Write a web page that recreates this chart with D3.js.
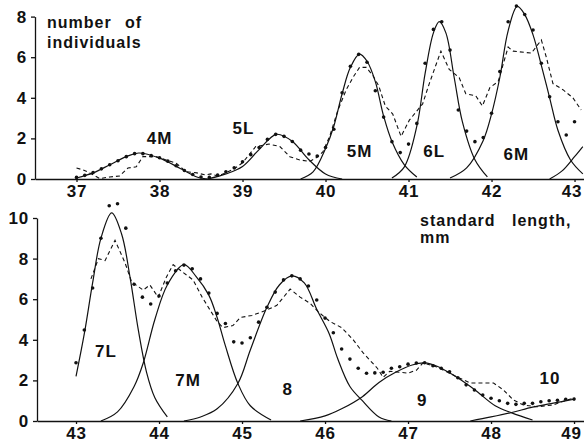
<!DOCTYPE html>
<html lang="en">
<head>
<meta charset="UTF-8">
<title>Length frequency, cohorts</title>
<style>
  body { margin: 0; background: #fff; }
  svg text { font-family: "Liberation Sans", Arial, sans-serif; font-weight: bold; fill: #111; }
  .axis .tick line, .axis .domain { stroke: #111; stroke-width: 1.3px; }
  .axis text { font-size: 17px; letter-spacing: 0.8px; }
  .fit { fill: none; stroke: #111; stroke-width: 1.2px; }
  .obs { fill: none; stroke: #111; stroke-width: 1.1px; stroke-dasharray: 4,3; }
  .pt { fill: #111; }
  .lab { font-size: 17px; letter-spacing: 1px; }
  .title { font-size: 16px; letter-spacing: 1px; }
</style>
</head>
<body>
<svg id="chart" width="584" height="444"></svg>
<script src="https://d3js.org/d3.v7.min.js"></script>
<script>
// tick labels
const topTicksX = [37, 38, 39, 40, 41, 42, 43];
const botTicksX = [43, 44, 45, 46, 47, 48, 49];
const topTicksY = [0, 2, 4, 6, 8];
const botTicksY = [0, 2, 4, 6, 8, 10];

// fitted components, top panel (length mm, number)
const comp4M = [[37.0,0.05],[37.2,0.3],[37.4,0.7],[37.6,1.1],[37.75,1.28],[38.0,1.03],[38.25,0.52],[38.45,0.1],[38.6,0]];
const comp5L = [[38.6,0.02],[38.8,0.25],[39.0,0.62],[39.2,1.45],[39.41,2.2],[39.6,1.85],[39.8,0.95],[40.0,0.25],[40.2,0]];
const comp5M = [[39.7,0],[39.85,0.35],[40.0,1.5],[40.1,2.6],[40.2,4.2],[40.3,5.5],[40.41,6.15],[40.5,5.8],[40.6,4.8],[40.7,3.1],[40.8,1.85],[40.95,0.7],[41.1,0.1]];
const comp6L = [[40.8,0.05],[40.95,0.6],[41.1,2.6],[41.2,5.2],[41.3,7.2],[41.37,7.75],[41.45,7.2],[41.55,5.0],[41.65,2.8],[41.8,0.95],[41.95,0.1]];
const comp6M = [[41.5,0.05],[41.7,0.55],[41.9,1.9],[42.0,3.2],[42.1,5.0],[42.2,7.3],[42.31,8.5],[42.4,8.1],[42.5,7.1],[42.6,5.6],[42.7,4.0],[42.8,2.4],[42.95,0.95],[43.1,0.25]];
const comp7Lstart = [[42.7,0],[42.85,0.4],[43.0,1.1],[43.1,1.6]];

// fitted components, bottom panel
const comp7L = [[43.0,2.2],[43.1,4.3],[43.2,6.8],[43.3,9.0],[43.43,10.25],[43.55,9.2],[43.65,7.1],[43.75,4.5],[43.85,2.4],[43.95,1.15],[44.1,0.2]];
const comp7M = [[43.3,0],[43.5,0.45],[43.7,1.7],[43.81,2.86],[43.95,5.0],[44.1,6.7],[44.3,7.7],[44.45,7.1],[44.6,6.2],[44.7,5.1],[44.8,3.7],[44.95,1.85],[45.1,0.75],[45.35,0.05]];
const comp8 = [[44.3,0],[44.5,0.2],[44.7,0.6],[44.95,1.85],[45.1,3.5],[45.3,5.6],[45.45,6.7],[45.6,7.15],[45.75,6.8],[45.9,5.5],[46.05,4.3],[46.15,3.1],[46.3,1.7],[46.45,1.0],[46.65,0.2],[46.8,0]];
const comp9 = [[45.7,0],[46.0,0.25],[46.2,0.6],[46.45,1.2],[46.65,1.9],[46.85,2.4],[47.05,2.76],[47.2,2.86],[47.35,2.7],[47.55,2.25],[47.8,1.55],[48.05,0.75],[48.25,0.4],[48.5,0.05]];
const comp10 = [[47.75,0],[48.0,0.2],[48.25,0.42],[48.5,0.68],[48.75,0.88],[49.0,1.07]];

// dotted series
const dotsTop = [[37.0,0.08],[37.1,0.18],[37.2,0.32],[37.3,0.5],[37.4,0.7],[37.5,0.9],[37.6,1.1],[37.7,1.25],[37.8,1.25],[37.9,1.15],
  [38.0,1.05],[38.1,0.88],[38.2,0.65],[38.3,0.42],[38.4,0.22],[38.5,0.1],[38.6,0.08],[38.7,0.2],[38.8,0.36],[38.9,0.55],
  [39.0,0.85],[39.1,1.2],[39.2,1.55],[39.3,1.95],[39.4,2.2],[39.5,2.1],[39.6,1.85],[39.7,1.42],[39.8,1.23],[39.9,1.13],
  [40.0,1.55],[40.1,2.45],[40.2,4.25],[40.3,5.55],[40.4,6.14],[40.5,5.75],[40.6,4.35],[40.7,3.05],[40.8,1.84],[40.9,1.3],
  [41.0,1.72],[41.1,2.74],[41.2,5.7],[41.3,7.37],[41.4,7.75],[41.5,6.35],[41.6,3.4],[41.7,2.36],[41.8,1.84],[41.9,2.04],
  [42.0,3.24],[42.1,5.29],[42.2,7.75],[42.3,8.52],[42.4,8.1],[42.5,7.34],[42.6,5.7],[42.7,4.05],[42.8,2.82],[42.9,2.17],[43.0,2.82]];
const dotsBot = [[43.0,2.87],[43.1,4.48],[43.2,6.55],[43.3,9.0],[43.4,10.6],[43.5,10.7],[43.6,9.5],[43.7,6.74],[43.8,6.1],[43.9,5.76],
  [44.0,6.16],[44.1,6.8],[44.2,7.4],[44.3,7.68],[44.4,7.5],[44.5,7.0],[44.6,6.3],[44.7,5.3],[44.8,4.8],[44.9,3.9],
  [45.0,3.84],[45.1,4.1],[45.2,4.87],[45.3,5.6],[45.4,6.35],[45.5,6.95],[45.6,7.15],[45.7,7.0],[45.8,6.65],[45.9,5.96],
  [46.0,5.07],[46.1,4.35],[46.2,3.55],[46.3,3.05],[46.4,2.6],[46.5,2.35],[46.6,2.37],[46.7,2.4],[46.8,2.6],[46.9,2.67],
  [47.0,2.8],[47.1,2.86],[47.2,2.87],[47.3,2.72],[47.4,2.6],[47.5,2.42],[47.6,2.13],[47.7,1.78],[47.8,1.53],[47.9,1.28],
  [48.0,1.12],[48.1,1.0],[48.2,0.87],[48.3,0.82],[48.4,0.87],[48.5,0.87],[48.6,0.95],[48.7,1.0],[48.8,1.02],[48.9,1.07],[49.0,1.08]];

// dashed series
const dashTop = [[37.0,0.54],[37.08,0.45],[37.16,0.3],[37.28,0.02],[37.4,0.1],[37.52,0.15],[37.62,0.54],[37.72,0.6],[37.8,1.1],[37.96,1.1],
  [38.08,0.94],[38.2,0.78],[38.32,0.36],[38.45,0.3],[38.55,0.2],[38.62,0.25],[38.7,0.15],[38.8,0.3],[38.9,0.5],[39.0,0.8],
  [39.06,1.1],[39.16,1.6],[39.32,1.72],[39.45,1.6],[39.57,1.1],[39.69,0.94],[39.81,0.86],[39.91,1.1],[39.97,1.35],[40.05,2.1],
  [40.15,3.4],[40.25,4.4],[40.33,5.0],[40.41,5.5],[40.49,5.5],[40.57,5.1],[40.64,4.6],[40.72,3.6],[40.81,3.2],[40.91,2.1],
  [41.01,2.9],[41.17,3.7],[41.25,4.7],[41.39,6.3],[41.49,5.4],[41.61,5.0],[41.69,4.2],[41.81,4.1],[41.89,3.6],[41.98,4.5],
  [42.08,4.8],[42.2,6.5],[42.26,6.3],[42.48,6.2],[42.6,6.85],[42.66,6.0],[42.74,4.7],[42.86,4.4],[42.98,4.0],[43.08,3.4]];
const dashBot = [[43.18,7.0],[43.27,8.0],[43.35,7.9],[43.47,8.9],[43.59,7.8],[43.67,6.85],[43.81,6.45],[43.89,6.7],[43.99,6.1],[44.09,7.1],
  [44.17,7.7],[44.28,7.35],[44.41,6.95],[44.52,6.1],[44.7,4.9],[44.77,4.6],[44.89,4.7],[44.98,5.1],[45.12,5.2],[45.3,5.47],
  [45.42,5.7],[45.58,6.5],[45.7,6.1],[45.82,5.8],[45.92,5.37],[46.06,4.9],[46.2,4.6],[46.34,4.0],[46.46,3.35],[46.63,2.6],
  [46.7,2.15],[46.78,2.45],[46.9,2.4],[47.0,2.36],[47.1,2.5],[47.18,2.86],[47.35,2.66],[47.59,2.17],[47.75,1.87],[48.03,1.87],
  [48.15,1.53],[48.27,1.03],[48.39,0.79],[48.55,0.7],[48.75,0.79],[48.91,1.03],[49.01,1.13]];

// cohort labels [text, length, number]
const labelsTop = [["4M",38.0,1.72],["5L",39.01,2.2],["5M",40.41,1.08],["6L",41.31,1.08],["6M",42.3,0.94]];
const labelsBot = [["7L",43.36,3.15],["7M",44.35,1.72],["8",45.55,1.28],["9",47.17,0.74],["10",48.71,1.82]];

const svg = d3.select("#chart");

function panel(o) {
  const x = d3.scaleLinear().domain(o.xDomain).range(o.xRange);
  const y = d3.scaleLinear().domain(o.yDomain).range(o.yRange);
  const g = svg.append("g");

  const xAxis = g.append("g").attr("class", "axis")
    .attr("transform", `translate(0,${o.yRange[0]})`)
    .call(d3.axisBottom(x).tickValues(o.ticksX).tickSize(3).tickSizeOuter(0).tickPadding(3).tickFormat(d3.format("d")));
  // keep the last label inside the page
  xAxis.selectAll(".tick text").filter((d, i, n) => i === n.length - 1).attr("dx", -3);
  g.append("g").attr("class", "axis")
    .attr("transform", `translate(${o.xRange[0]},0)`)
    .call(d3.axisLeft(y).tickValues(o.ticksY).tickSize(4).tickSizeOuter(0).tickPadding(4).tickFormat(d3.format("d")));

  const smooth = d3.line().x(d => x(d[0])).y(d => y(d[1])).curve(d3.curveCatmullRom.alpha(0.5));
  const straight = d3.line().x(d => x(d[0])).y(d => y(d[1]));

  o.comps.forEach(c => g.append("path").attr("class", "fit").attr("d", smooth(c)));
  g.append("path").attr("class", "obs").attr("d", straight(o.dash));
  g.selectAll("circle.pt").data(o.dots).enter().append("circle")
    .attr("class", "pt").attr("cx", d => x(d[0])).attr("cy", d => y(d[1])).attr("r", 1.8);
  g.selectAll("text.lab").data(o.labels).enter().append("text")
    .attr("class", "lab").attr("x", d => x(d[1])).attr("y", d => y(d[2]))
    .attr("text-anchor", "middle").text(d => d[0]);
}

panel({
  xDomain: [36.5, 43.114], xRange: [35, 584],
  yDomain: [0, 8], yRange: [179, 16.6],
  ticksX: topTicksX, ticksY: topTicksY,
  comps: [comp4M, comp5L, comp5M, comp6L, comp6M, comp7Lstart],
  dots: dotsTop, dash: dashTop, labels: labelsTop
});
panel({
  xDomain: [42.53, 49.12], xRange: [37, 584],
  yDomain: [0, 10], yRange: [421, 218],
  ticksX: botTicksX, ticksY: botTicksY,
  comps: [comp7L, comp7M, comp8, comp9, comp10],
  dots: dotsBot, dash: dashBot, labels: labelsBot
});

// axis titles
svg.append("text").attr("class", "title").attr("x", 47).attr("y", 28).text("number");
svg.append("text").attr("class", "title").attr("x", 125).attr("y", 28).text("of");
svg.append("text").attr("class", "title").attr("x", 47).attr("y", 48).text("individuals");
svg.append("text").attr("class", "title").attr("x", 420).attr("y", 226).text("standard");
svg.append("text").attr("class", "title").attr("x", 512).attr("y", 226).text("length,");
svg.append("text").attr("class", "title").attr("x", 420).attr("y", 243).text("mm");
</script>
</body>
</html>
